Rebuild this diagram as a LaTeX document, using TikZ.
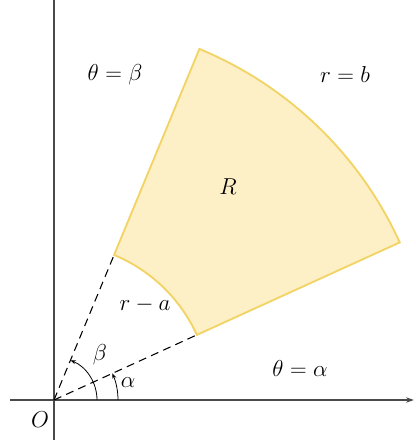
\documentclass[tikz,border=0pt]{standalone}
\usepackage{tikz}
\usepackage{xcolor}
\usetikzlibrary{arrows.meta, calc}
\definecolor{regionfill}{HTML}{FDF0C6}
\definecolor{regionedge}{HTML}{F2D466}
\definecolor{axisgray}{HTML}{4A4A4A}

\begin{document}
\begin{tikzpicture}[
        x=0.75pt, y=0.75pt,
        axis/.style={axisgray, line width=1pt},
        ray/.style={black, dashed, line width=0.8pt, dash pattern=on 6pt off 4pt},
        angarc/.style={black, line width=0.6pt, -{Stealth[length=4pt, width=3pt]}},
        lbl/.style={font=\fontsize{16}{19}\selectfont, inner sep=1pt}
      ]
        \useasboundingbox (-54,-40) rectangle (362,400);
        \coordinate (O) at (0,0);
        \coordinate (ia) at (24.5:157);
        \coordinate (oa) at (24.5:380);
        \coordinate (ib) at (67.5:157);
        \coordinate (ob) at (67.5:380);
        % polar region
        \filldraw[fill=regionfill, draw=regionedge, line width=1.4pt]
          (ia) -- (oa) arc[start angle=24.5, end angle=67.5, radius=380]
          -- (ib) arc[start angle=67.5, end angle=24.5, radius=157] -- cycle;
        % axes
        \draw[axis, -{Stealth[length=6pt, width=4pt]}] (-44,0) -- (360,0);
        \draw[axis] (0,-40) -- (0,400);
        \draw[ray] (O) -- (ia);
        \draw[ray] (O) -- (ib);
        \draw[angarc] (64,0) arc[start angle=0, end angle=24.5, radius=64];
        \draw[angarc] (43,0) arc[start angle=0, end angle=67.5, radius=43];
        \node[lbl] (tb) at (61,325) {$\theta=\beta$};
        \node[lbl] (rb) at (291,325) {$r=b$};
        \node[lbl] (R) at (174,213) {$R$};
        \node[lbl] (ta) at (246,32) {$\theta=\alpha$};
        \node[lbl] (ra) at (91,95) {$r-a$};
        \node[lbl] (bt) at (46,45) {$\beta$};
        \node[lbl] (al) at (74,17) {$\alpha$};
        \node[lbl] (o) at (-14,-20) {$O$};
      \end{tikzpicture}
\end{document}
